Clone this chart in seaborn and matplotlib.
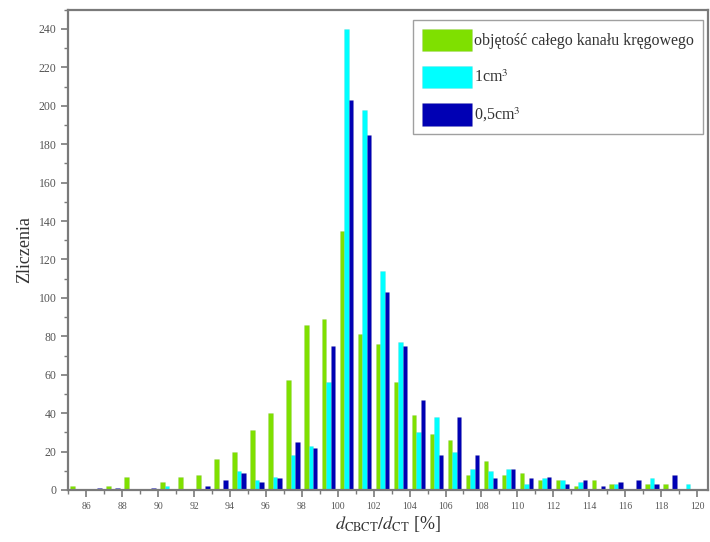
import matplotlib
matplotlib.use("Agg")
import matplotlib.pyplot as plt
from matplotlib.ticker import MultipleLocator
import pandas as pd
import seaborn as sns

# bin centres of d_CBCT/d_CT [%]
bins = [85.5, 86.5, 87.5, 88.5, 89.5, 90.5, 91.5, 92.5, 93.5, 94.5,
        95.5, 96.5, 97.5, 98.5, 99.5, 100.5, 101.5, 102.5, 103.5, 104.5,
        105.5, 106.5, 107.5, 108.5, 109.5, 110.5, 111.5, 112.5, 113.5, 114.5,
        115.5, 116.5, 117.5, 118.5, 119.5]

whole_canal = [2, 0, 2, 7, 0, 4, 7, 8, 16, 20,
               31, 40, 57, 86, 89, 135, 81, 76, 56, 39,
               29, 26, 8, 15, 8, 9, 5, 5, 2, 5,
               3, 0, 3, 3, 0]
vol_1cm3 = [0, 0, 0, 0, 0, 2, 0, 0, 0, 10,
            5, 7, 18, 23, 56, 240, 198, 114, 77, 30,
            38, 20, 11, 10, 11, 3, 6, 5, 4, 0,
            3, 0, 6, 0, 3]
vol_05cm3 = [0, 1, 1, 0, 1, 0, 0, 2, 5, 9,
             4, 6, 25, 22, 75, 203, 185, 103, 75, 47,
             18, 38, 18, 6, 11, 6, 7, 3, 5, 2,
             4, 5, 3, 8, 0]

labels = ["objętość całego kanału kręgowego", "1cm$^3$", "0,5cm$^3$"]
colors = ["#7fe000", "#00ffff", "#0000b4"]

df = pd.concat([
    pd.DataFrame({"bin": bins, "count": vals, "series": lab})
    for vals, lab in zip([whole_canal, vol_1cm3, vol_05cm3], labels)
])

sns.set_style("white")
plt.rcParams["font.family"] = ["Liberation Serif", "DejaVu Serif"]
plt.rcParams["mathtext.fontset"] = "stix"

fig = plt.figure(figsize=(7.1, 5.42), dpi=100)
ax = fig.add_axes([0.096, 0.096, 0.901, 0.886])

sns.barplot(data=df, x="bin", y="count", hue="series", hue_order=labels,
            palette=colors, native_scale=True, width=0.75, saturation=1,
            linewidth=0.4, edgecolor="#55555520", ax=ax)

ax.set_xlim(85, 120.6)
ax.set_ylim(0, 250)
ax.xaxis.set_major_locator(MultipleLocator(2))
ax.xaxis.set_minor_locator(MultipleLocator(1))
ax.yaxis.set_major_locator(MultipleLocator(20))
ax.yaxis.set_minor_locator(MultipleLocator(10))

grey = "#7a7a7a"
for side in ["left", "right", "top", "bottom"]:
    ax.spines[side].set_color(grey)
    ax.spines[side].set_linewidth(1.6)
ax.tick_params(which="both", direction="out", color=grey, bottom=True, left=True,
               top=False, right=False)
ax.tick_params(which="major", length=5, width=1.2)
ax.tick_params(which="minor", length=3, width=1.0)
ax.tick_params(axis="x", labelsize=7, labelcolor="#555555")
ax.tick_params(axis="y", labelsize=8.5, labelcolor="#555555")

ax.set_xlabel(r"$d_{\mathrm{CBCT}}/d_{\mathrm{CT}}$ [%]", fontsize=13, color="#333333",
              labelpad=2)
ax.set_ylabel("Zliczenia", fontsize=13, color="#333333", labelpad=4)

handles, _ = ax.get_legend_handles_labels()
leg = ax.legend(handles, labels, loc="upper right", bbox_to_anchor=(0.997, 0.985),
                fontsize=11.5, frameon=True, fancybox=False, handlelength=3.1,
                handleheight=1.75, labelspacing=0.95, handletextpad=0.15,
                borderpad=0.55, borderaxespad=0.2, edgecolor="#888888")
leg.get_frame().set_linewidth(1.0)
for t in leg.get_texts():
    t.set_color("#333333")

fig.savefig("out.png", dpi=100)
